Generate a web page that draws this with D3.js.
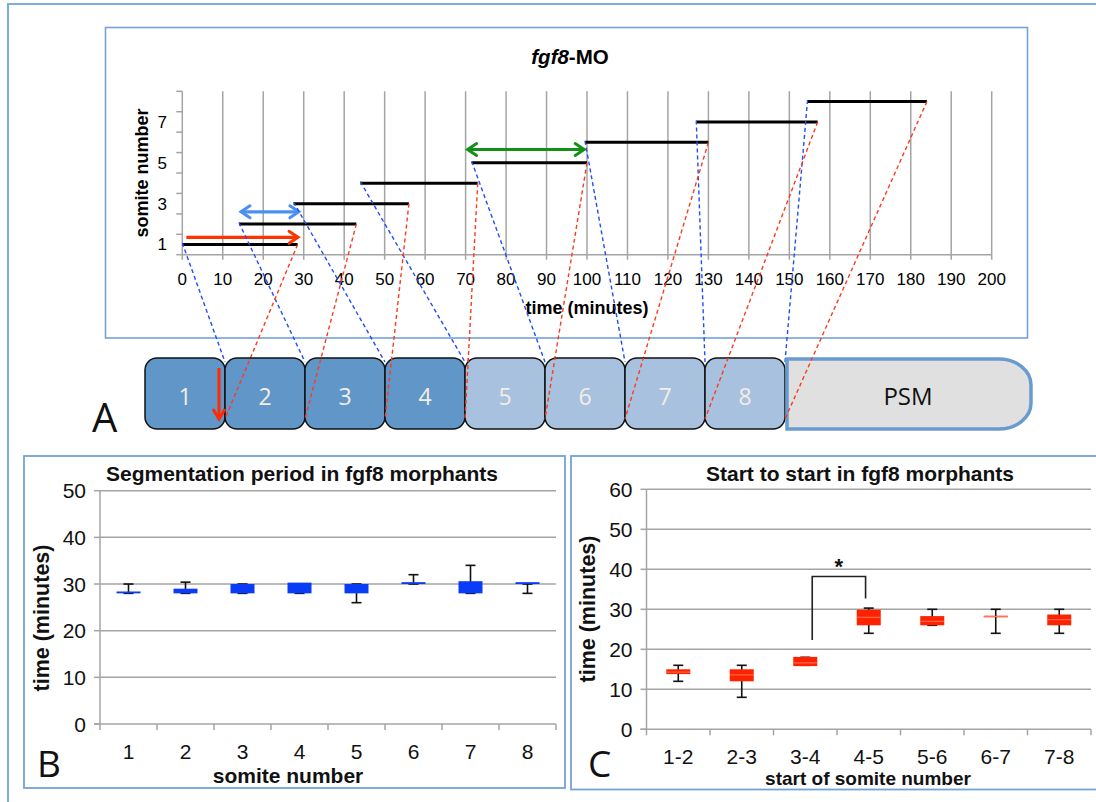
<!DOCTYPE html>
<html>
<head>
<meta charset="utf-8">
<script src="https://cdn.jsdelivr.net/npm/d3@7"></script>
<style>
  body { margin: 0; background: #fff; }
  svg { display: block; }
</style>
</head>
<body>
<svg id="fig" width="1096" height="802"></svg>
<script>
// ---------- Panel A: timing of each somite (minutes) ----------
const somites = [1, 2, 3, 4, 5, 6, 7, 8];
const startTimes = [0, 14, 27.5, 44, 71.5, 99.5, 127, 154.5];
const endTimes   = [28.5, 43, 56, 73, 100, 130, 157, 184];
const timeTicks = d3.range(0, 201, 10);
const somiteTickLabels = [1, 3, 5, 7];
const formedSomites = [1, 2, 3, 4];

// highlighted intervals drawn as arrows
const arrowFrom  = [1, 14.5, 70.5];
const arrowTo    = [28.6, 28.8, 99.3];
const arrowLevel = [1.35, 2.6, 5.65];
const arrowBoth  = [false, true, true];

// ---------- Panel B: segmentation period ----------
const periodCats = ["1", "2", "3", "4", "5", "6", "7", "8"];
const periodMin = [28, 28, 28, 28, 26, 30, 28, 28];
const periodQ1  = [28, 28, 28, 28, 28, 30, 28, 30];
const periodQ3  = [28.4, 29, 30, 30.3, 30, 30.4, 30.6, 30.4];
const periodMax = [30, 30.4, 30, 30, 30, 32, 34, 30];
const periodTicks = [0, 10, 20, 30, 40, 50];

// ---------- Panel C: start to start ----------
const startCats = ["1-2", "2-3", "3-4", "4-5", "5-6", "6-7", "7-8"];
const startMin = [12, 8, 16, 24, 26, 24, 24];
const startQ1  = [13.8, 12, 15.8, 26, 26, 28, 26];
const startMed = [14.3, 13.6, 16.6, 28, 27, 28.2, 27.4];
const startQ3  = [15, 15, 18.1, 29.9, 28.3, 28.4, 28.7];
const startMax = [16, 16, 18, 30.3, 30, 30, 30];
const startTicks = [0, 10, 20, 30, 40, 50, 60];
// significance bracket between 3-4 and 4-5
const sigPair = ["3-4", "4-5"];
const sigLevels = [22.3, 38.2, 32.7];

const svg = d3.select("#fig");
const ARIAL = "'Liberation Sans', Arial, sans-serif";
const CAL = "'Open Sans', 'Noto Sans', sans-serif";
const GRID = "#a4a4a4";
const FRAME = "#74a2d8";

svg.append("rect").attr("width", 1096).attr("height", 802).attr("fill", "#fff");

// outer figure frame (left and top edges)
svg.append("path")
  .attr("d", "M8,802 V4 H1096")
  .attr("fill", "none").attr("stroke", "#7eabe0").attr("stroke-width", 2);

// =========================== PANEL A ===========================
svg.append("rect").attr("x", 105.5).attr("y", 27.5).attr("width", 922).attr("height", 310.5)
  .attr("fill", "#fff").attr("stroke", FRAME).attr("stroke-width", 1.6);

const xA = d3.scaleLinear().domain([0, 200]).range([182.3, 991.7]);
const yA = d3.scaleLinear().domain([0.5, 8.5]).range([254.7, 91.3]);

const gA = svg.append("g");
// vertical gridlines
gA.selectAll("line.grid").data(timeTicks).join("line")
  .attr("x1", d => xA(d)).attr("x2", d => xA(d))
  .attr("y1", yA(8.5)).attr("y2", yA(0.5) + 5)
  .attr("stroke", GRID).attr("stroke-width", 1.5);
// x axis line
gA.append("line").attr("x1", xA(0)).attr("x2", xA(200))
  .attr("y1", yA(0.5)).attr("y2", yA(0.5))
  .attr("stroke", GRID).attr("stroke-width", 1.5);
// y ticks
gA.selectAll("line.yt").data(d3.range(0.5, 8.6, 1)).join("line")
  .attr("x1", xA(0) - 6).attr("x2", xA(0))
  .attr("y1", d => yA(d)).attr("y2", d => yA(d))
  .attr("stroke", GRID).attr("stroke-width", 1.5);
// tick labels
gA.selectAll("text.xl").data(timeTicks).join("text")
  .attr("x", d => xA(d)).attr("y", 285)
  .attr("text-anchor", "middle").attr("font-family", ARIAL).attr("font-size", 17)
  .text(d => d);
gA.selectAll("text.yl").data(somiteTickLabels).join("text")
  .attr("x", 167).attr("y", d => yA(d) + 6)
  .attr("text-anchor", "end").attr("font-family", ARIAL).attr("font-size", 17)
  .text(d => d);
// titles
const tA = gA.append("text").attr("x", 570).attr("y", 64)
  .attr("text-anchor", "middle").attr("font-family", ARIAL).attr("font-size", 20.5).attr("font-weight", "bold");
tA.append("tspan").attr("font-style", "italic").text("fgf8");
tA.append("tspan").text("-MO");
gA.append("text").attr("x", 587).attr("y", 314).attr("text-anchor", "middle")
  .attr("font-family", ARIAL).attr("font-size", 18).attr("font-weight", "bold").text("time (minutes)");
gA.append("text").attr("transform", "translate(142,173) rotate(-90)")
  .attr("text-anchor", "middle").attr("dominant-baseline", "central")
  .attr("font-family", ARIAL).attr("font-size", 18).attr("font-weight", "bold").text("somite number");

// somite boxes
const boxX = d3.scaleBand().domain(somites).range([145, 785]);
const boxTop = 358, boxBottom = 429;

// dashed connectors from the timeline to the somite boundaries
const conn = svg.append("g").attr("fill", "none").attr("stroke-width", 1.4).attr("stroke-dasharray", "4,3");
conn.selectAll("line.blue").data(somites).join("line")
  .attr("x1", (d, i) => xA(startTimes[i])).attr("y1", (d, i) => yA(d) - 1.5)
  .attr("x2", d => boxX(d) + boxX.bandwidth()).attr("y2", boxTop + 4)
  .attr("stroke", "#1f4ef5");
conn.selectAll("line.red").data(somites).join("line")
  .attr("x1", (d, i) => xA(endTimes[i])).attr("y1", d => yA(d))
  .attr("x2", d => boxX(d) + boxX.bandwidth()).attr("y2", boxBottom - 10)
  .attr("stroke", "#ff3a1a");

// timeline bars
gA.selectAll("line.bar").data(somites).join("line")
  .attr("x1", (d, i) => xA(startTimes[i])).attr("x2", (d, i) => xA(endTimes[i]))
  .attr("y1", d => yA(d)).attr("y2", d => yA(d))
  .attr("stroke", "#000").attr("stroke-width", 3);

// arrows
const arrowColors = ["#ff3300", "#4d8ef2", "#12901a"];
function arrowHead(g, x, y, dir, color) {
  g.append("path")
    .attr("d", `M${x - dir * 9},${y - 6} L${x},${y} L${x - dir * 9},${y + 6}`)
    .attr("fill", "none").attr("stroke", color).attr("stroke-width", 3)
    .attr("stroke-linejoin", "miter").attr("stroke-linecap", "round");
}
arrowLevel.forEach((lv, i) => {
  const y = yA(lv), x1 = xA(arrowFrom[i]), x2 = xA(arrowTo[i]);
  gA.append("line").attr("x1", x1 + (arrowBoth[i] ? 1 : 0)).attr("x2", x2 - 1)
    .attr("y1", y).attr("y2", y).attr("stroke", arrowColors[i]).attr("stroke-width", 3.2);
  arrowHead(gA, x2, y, 1, arrowColors[i]);
  if (arrowBoth[i]) arrowHead(gA, x1, y, -1, arrowColors[i]);
});

// somite blocks
const blocks = svg.append("g");
blocks.selectAll("rect").data(somites).join("rect")
  .attr("x", d => boxX(d)).attr("y", boxTop)
  .attr("width", boxX.bandwidth()).attr("height", boxBottom - boxTop)
  .attr("rx", 12).attr("ry", 12)
  .attr("fill", d => formedSomites.includes(d) ? "#6196c9" : "#a7c1df")
  .attr("stroke", "#111").attr("stroke-width", 1.5);
blocks.selectAll("text").data(somites).join("text")
  .attr("x", d => boxX(d) + boxX.bandwidth() / 2).attr("y", 405)
  .attr("text-anchor", "middle").attr("font-family", CAL).attr("font-size", 23)
  .attr("fill", "#f4ede4").text(d => d);

// presomitic mesoderm
const px0 = 787, px1 = 1031;
svg.append("path")
  .attr("d", `M${px0},${boxTop + 1} H${px1 - 32} A32,26 0 0 1 ${px1},${boxTop + 27} V${boxBottom - 26} A32,26 0 0 1 ${px1 - 32},${boxBottom} H${px0} Z`)
  .attr("fill", "#e0e0e0").attr("stroke", "#6a9bcf").attr("stroke-width", 3.5);
svg.append("text").attr("x", 908).attr("y", 405).attr("text-anchor", "middle")
  .attr("font-family", CAL).attr("font-size", 24).attr("fill", "#111").text("PSM");

// dashed connectors over the blocks (lower ends)
svg.append("clipPath").attr("id", "blockClip").append("rect")
  .attr("x", 140).attr("y", boxTop).attr("width", 900).attr("height", boxBottom - boxTop);
const conn2 = svg.append("g").attr("fill", "none").attr("stroke-width", 1.4)
  .attr("stroke-dasharray", "4,3").attr("clip-path", "url(#blockClip)");
conn2.selectAll("line").data(somites).join("line")
  .attr("x1", (d, i) => xA(endTimes[i])).attr("y1", d => yA(d))
  .attr("x2", d => boxX(d) + boxX.bandwidth()).attr("y2", boxBottom - 10)
  .attr("stroke", "#ff3a1a");

// red arrow inside the first block
const ax = boxX(1) + boxX.bandwidth() - 6;
svg.append("line").attr("x1", ax).attr("x2", ax).attr("y1", 368).attr("y2", 417)
  .attr("stroke", "#ff2a00").attr("stroke-width", 3);
svg.append("path").attr("d", `M${ax - 6},${409} L${ax},${419} L${ax + 6},${409}`)
  .attr("fill", "none").attr("stroke", "#ff2a00").attr("stroke-width", 3);

svg.append("text").attr("x", 92).attr("y", 432).attr("font-family", CAL)
  .attr("font-size", 40).attr("fill", "#111").text("A");

// =========================== BOX PANELS ===========================
function boxPanel(opt) {
  const g = svg.append("g");
  g.append("rect").attr("x", opt.frame[0]).attr("y", opt.frame[1])
    .attr("width", opt.frame[2]).attr("height", opt.frame[3])
    .attr("fill", "#fff").attr("stroke", FRAME).attr("stroke-width", 1.8);
  const y = d3.scaleLinear().domain(opt.yDomain).range(opt.yRange);
  const x = d3.scaleBand().domain(opt.cats).range(opt.xRange);
  const [xl, xr] = opt.xRange;
  // gridlines
  g.selectAll("line.grid").data(opt.ticks.slice(1)).join("line")
    .attr("x1", xl).attr("x2", xr).attr("y1", d => y(d)).attr("y2", d => y(d))
    .attr("stroke", GRID).attr("stroke-width", 1.5);
  // axes
  g.append("line").attr("x1", xl).attr("x2", xl).attr("y1", y(opt.yDomain[0])).attr("y2", y(opt.yDomain[1]))
    .attr("stroke", GRID).attr("stroke-width", 1.5);
  g.append("line").attr("x1", xl - 6).attr("x2", xr).attr("y1", y(0)).attr("y2", y(0))
    .attr("stroke", GRID).attr("stroke-width", 1.5);
  g.selectAll("line.yt").data(opt.ticks).join("line")
    .attr("x1", xl - 6).attr("x2", xl).attr("y1", d => y(d)).attr("y2", d => y(d))
    .attr("stroke", GRID).attr("stroke-width", 1.5);
  const bounds = opt.cats.map(c => x(c)).concat([xr]);
  g.selectAll("line.xt").data(bounds).join("line")
    .attr("x1", d => d).attr("x2", d => d).attr("y1", y(0)).attr("y2", y(0) + 6)
    .attr("stroke", GRID).attr("stroke-width", 1.5);
  // tick labels
  g.selectAll("text.yl").data(opt.ticks).join("text")
    .attr("x", xl - 14).attr("y", d => y(d) + 7.5)
    .attr("text-anchor", "end").attr("font-family", ARIAL).attr("font-size", 21).attr("fill", "#111")
    .text(d => d);
  g.selectAll("text.xl").data(opt.cats).join("text")
    .attr("x", d => x(d) + x.bandwidth() / 2).attr("y", y(0) + 35)
    .attr("text-anchor", "middle").attr("font-family", ARIAL).attr("font-size", 21).attr("fill", "#111")
    .text(d => d);
  // whiskers and boxes
  const c = d => x(d) + x.bandwidth() / 2;
  const hw = opt.boxW / 2;
  opt.cats.forEach((cat, i) => {
    const cx = c(cat);
    g.append("line").attr("x1", cx).attr("x2", cx).attr("y1", y(opt.min[i])).attr("y2", y(opt.max[i]))
      .attr("stroke", "#111").attr("stroke-width", 1.6);
    [opt.min[i], opt.max[i]].forEach(v => {
      g.append("line").attr("x1", cx - 5).attr("x2", cx + 5).attr("y1", y(v)).attr("y2", y(v))
        .attr("stroke", "#111").attr("stroke-width", 1.6);
    });
    g.append("rect").attr("x", cx - hw).attr("width", opt.boxW)
      .attr("y", y(opt.q3[i])).attr("height", Math.max(1.6, y(opt.q1[i]) - y(opt.q3[i])))
      .attr("fill", opt.color);
    if (opt.med) {
      g.append("line").attr("x1", cx - hw).attr("x2", cx + hw)
        .attr("y1", y(opt.med[i])).attr("y2", y(opt.med[i]))
        .attr("stroke", opt.medColor).attr("stroke-width", 0.8);
    }
  });
  // titles
  g.append("text").attr("x", opt.titlePos[0]).attr("y", opt.titlePos[1])
    .attr("text-anchor", "middle").attr("font-family", ARIAL).attr("font-size", 21)
    .attr("font-weight", "bold").attr("fill", "#111").text(opt.title);
  g.append("text").attr("x", opt.xTitlePos[0]).attr("y", opt.xTitlePos[1])
    .attr("text-anchor", "middle").attr("font-family", ARIAL).attr("font-size", opt.xTitleSize)
    .attr("font-weight", "bold").attr("fill", "#111").text(opt.xTitle);
  g.append("text").attr("transform", `translate(${opt.yTitlePos[0]},${opt.yTitlePos[1]}) rotate(-90)`)
    .attr("text-anchor", "middle").attr("dominant-baseline", "central")
    .attr("font-family", ARIAL).attr("font-size", 21.5).attr("font-weight", "bold").attr("fill", "#111")
    .text("time (minutes)");
  g.append("text").attr("x", opt.letterPos[0]).attr("y", opt.letterPos[1])
    .attr("font-family", CAL).attr("font-size", 37).attr("fill", "#111").text(opt.letter);
  return { g, x, y };
}

boxPanel({
  frame: [24, 456, 541, 332],
  yDomain: [0, 50], yRange: [724, 490.7], xRange: [100, 556],
  cats: periodCats, ticks: periodTicks,
  min: periodMin, q1: periodQ1, q3: periodQ3, max: periodMax,
  boxW: 24, color: "#0a3cf7",
  title: "Segmentation period in fgf8 morphants", titlePos: [302, 481],
  xTitle: "somite number", xTitlePos: [288, 783], xTitleSize: 21,
  yTitlePos: [42, 618], letter: "B", letterPos: [37, 777]
});

const pc = boxPanel({
  frame: [571, 456, 540, 333.5],
  yDomain: [0, 60], yRange: [729.3, 489.3], xRange: [646.5, 1091],
  cats: startCats, ticks: startTicks,
  min: startMin, q1: startQ1, q3: startQ3, max: startMax, med: startMed, medColor: "#ff8a70",
  boxW: 24, color: "#ff2200",
  title: "Start to start in fgf8 morphants", titlePos: [860, 481],
  xTitle: "start of somite number", xTitlePos: [868, 785], xTitleSize: 19,
  yTitlePos: [588, 609], letter: "C", letterPos: [588, 777]
});

// significance bracket
const bx1 = pc.x(sigPair[0]) + pc.x.bandwidth() * 0.61;
const bx2 = pc.x(sigPair[1]) + pc.x.bandwidth() * 0.45;
pc.g.append("path")
  .attr("d", `M${bx1},${pc.y(sigLevels[0])} V${pc.y(sigLevels[1])} H${bx2} V${pc.y(sigLevels[2])}`)
  .attr("fill", "none").attr("stroke", "#222").attr("stroke-width", 1.6);
pc.g.append("text").attr("x", (bx1 + bx2) / 2).attr("y", pc.y(sigLevels[1]) - 3)
  .attr("text-anchor", "middle").attr("font-family", ARIAL).attr("font-size", 22)
  .attr("font-weight", "bold").attr("fill", "#111").text("*");
</script>
</body>
</html>
